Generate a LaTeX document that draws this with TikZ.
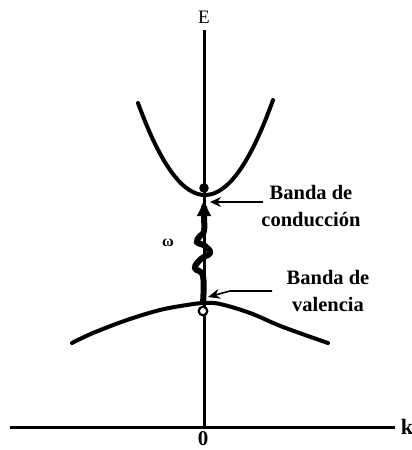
\documentclass[tikz,border=0pt]{standalone}
\usepackage{fontspec}
\setmainfont{Liberation Serif}
\usetikzlibrary{arrows.meta}
\begin{document}
\begin{tikzpicture}[x=1pt,y=-1pt,
  axisline/.style={line width=3pt},
  bandline/.style={line width=4pt,line cap=round},
  labelarrow/.style={line width=1.6pt},
  lbl/.style={font=\fontsize{20.5}{27}\selectfont\bfseries,align=center,inner sep=0pt}]
\useasboundingbox (0,0) rectangle (412,450);
% axes
\coordinate (etop) at (204,30);
\coordinate (origin) at (204,427);
\coordinate (kleft) at (10,427);
\coordinate (kright) at (395,427);
\draw[axisline] (etop) -- (origin);
\draw[axisline] (kleft) -- (kright);
\node[inner sep=0pt,font=\fontsize{19}{19}\selectfont] (E) at (204,17) {E};
\node[inner sep=0pt,font=\fontsize{21}{21}\selectfont\bfseries] (zero) at (203,439) {0};
\node[inner sep=0pt,font=\fontsize{22}{22}\selectfont\bfseries] (k) at (407,427) {k};
% conduction band (parabola)
\coordinate (cbl) at (138,103);
\coordinate (cbr) at (273,100);
\draw[bandline] (cbl) .. controls (183,226.7) and (228,225.7) .. (cbr);
% valence band
\draw[bandline] plot[smooth,tension=0.6] coordinates {(72,343) (93,333) (127,320) (160,310) (187,305) (204,303) (220,304) (250,313) (283,327) (328,343)};
% electron and hole
\coordinate (cmin) at (204,188);
\coordinate (vmax) at (203,311);
\fill (cmin) circle (4.8);
% photon wave arrow
\draw[line width=6pt,-{Latex[length=18pt,width=15pt]}] plot[smooth,tension=0.7] coordinates {(203,303) (203,276) (195,268) (201,259) (210,253) (205,246) (197,242) (200,236) (204,231) (204,215) (204,198)};
\draw[line width=2.2pt,fill=white] (vmax) circle (4.3);
\node[inner sep=0pt,font=\fontsize{16}{16}\selectfont\bfseries] (omega) at (168,243) {ω};
% labels
\node[lbl] (cb) at (311,206) {Banda de\\conducción};
\node[lbl] (vb) at (328,291) {Banda de\\valencia};
\coordinate (cbstart) at (263,202);
\coordinate (cbend) at (210,202);
\draw[labelarrow,-{Stealth[length=11pt,width=10pt]}] (cbstart) -- (cbend);
\coordinate (vbstart) at (272,291);
\coordinate (vbmid) at (230,291);
\coordinate (vbend) at (208,297);
\draw[labelarrow,-{Stealth[length=12pt,width=10pt]}] (vbstart) -- (vbmid) -- (vbend);
\end{tikzpicture}
\end{document}
